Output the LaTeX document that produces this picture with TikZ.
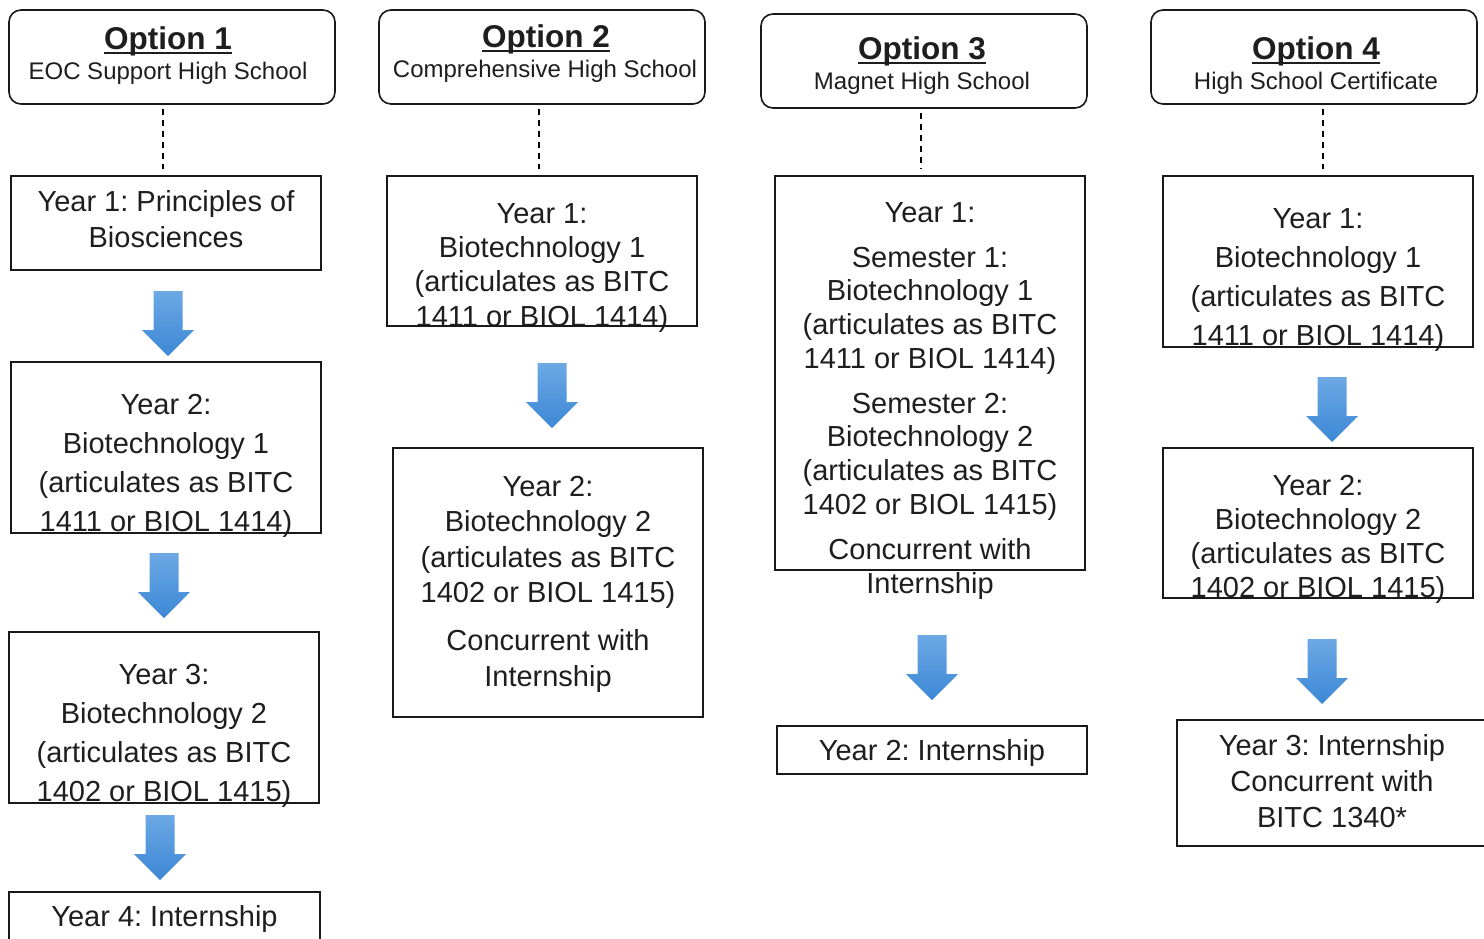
\documentclass[tikz,border=0pt]{standalone}
\usepackage{fontspec}
\setmainfont{Liberation Sans}
\usetikzlibrary{calc}
\frenchspacing
\definecolor{txtc}{RGB}{30,30,30}
\definecolor{arrtop}{RGB}{108,168,228}
\definecolor{arrbot}{RGB}{60,136,214}
\newcommand\optul[1]{\setbox0\hbox{#1}\rlap{\rule[-5pt]{\wd0}{2.4pt}}\box0}
\newcommand\ybox[6][ybox]{\node[#1, minimum width={(#4)-(#3)}, minimum height={(#6)-(#5)}] (#2) at ({((#3)+(#4))/2},{((#5)+(#6))/2}) {};}
\newcommand\barrow[3]{%
  \coordinate (#1) at (#2,#3);
  \shade[top color=arrtop, bottom color=arrbot]
    ([shift={(-14.5,0)}]#1) -- ([shift={(14.5,0)}]#1) -- ([shift={(14.5,39)}]#1)
    -- ([shift={(26,39)}]#1) -- ([shift={(0,65)}]#1) -- ([shift={(-26,39)}]#1)
    -- ([shift={(-14.5,39)}]#1) -- cycle;}
\begin{document}
\frenchspacing
\begin{tikzpicture}[x=1pt,y=-1pt,
  ybox/.style={draw=black!90, line width=1.6pt, inner sep=0pt},
  hbox/.style={ybox, rounded corners=12pt},
  txt/.style={text=txtc, align=center, inner sep=0pt, anchor=base},
  big/.style={font=\fontsize{29}{#1}\selectfont},
  opt/.style={txt, font=\fontsize{31.5}{36}\selectfont\bfseries},
  sub/.style={txt, font=\fontsize{24}{28}\selectfont},
  dashline/.style={draw=black, line width=1.5pt, dash pattern=on 6pt off 5pt, shorten <=4pt, shorten >=6pt}]
\useasboundingbox (0,0) rectangle (1484,938);
\clip (0,0) rectangle (1484,938);
\fill[white] (0,0) rectangle (1484,938);

% header texts
\node[opt] (o1) at (168,49) {\optul{Option 1}};
\node[sub] (s1) at (168,79) {EOC Support High School};
\node[opt] (o2) at (546,47) {\optul{Option 2}};
\node[sub] (s2) at (545,77) {Comprehensive High School};
\node[opt] (o3) at (922,59) {\optul{Option 3}};
\node[sub] (s3) at (922,89) {Magnet High School};
\node[opt] (o4) at (1316,59) {\optul{Option 4}};
\node[sub] (s4) at (1316,89) {High School Certificate};

% header boxes
\ybox[hbox]{h1}{9}{335}{10}{104}
\ybox[hbox]{h2}{379}{705}{10}{104}
\ybox[hbox]{h3}{761}{1087}{14}{108}
\ybox[hbox]{h4}{1151}{1477}{10}{104}

% box texts (anchored at the baseline of the last line)
\node[txt, big=36] (t11) at (166,247) {Year 1: Principles of\\Biosciences};
\node[txt, big=39] (t12) at (166,531) {Year 2:\\Biotechnology 1\\(articulates as BITC\\1411 or BIOL 1414)};
\node[txt, big=39] (t13) at (164,801) {Year 3:\\Biotechnology 2\\(articulates as BITC\\1402 or BIOL 1415)};
\node[txt, big=39] (t14) at (164.5,926) {Year 4: Internship};

\node[txt, big=34.3] (t21) at (542,326) {Year 1:\\Biotechnology 1\\(articulates as BITC\\1411 or BIOL 1414)};
\node[txt, big=35.5] (t22) at (548,686) {Year 2:\\Biotechnology 2\\(articulates as BITC\\1402 or BIOL 1415)\\[12.5pt]Concurrent with\\Internship};

\node[txt, big=33.7] (t31) at (930,593) {Year 1:\\[11.3pt]Semester 1:\\Biotechnology 1\\(articulates as BITC\\1411 or BIOL 1414)\\[11.3pt]Semester 2:\\Biotechnology 2\\(articulates as BITC\\1402 or BIOL 1415)\\[11.3pt]Concurrent with\\Internship};
\node[txt, big=39] (t32) at (932,760) {Year 2: Internship};

\node[txt, big=39] (t41) at (1318,345) {Year 1:\\Biotechnology 1\\(articulates as BITC\\1411 or BIOL 1414)};
\node[txt, big=34] (t42) at (1318,597) {Year 2:\\Biotechnology 2\\(articulates as BITC\\1402 or BIOL 1415)};
\node[txt, big=36] (t43) at (1332,827) {Year 3: Internship\\Concurrent with\\BITC 1340*};

% boxes
\ybox{b11}{11}{321}{176}{270}
\ybox{b12}{11}{321}{362}{533}
\ybox{b13}{9}{319}{632}{803}
\ybox{b14}{9}{320}{892}{960}
\ybox{b21}{387}{697}{176}{326}
\ybox{b22}{393}{703}{448}{717}
\ybox{b31}{775}{1085}{176}{570}
\ybox{b32}{777}{1087}{726}{774}
\ybox{b41}{1163}{1473}{176}{347}
\ybox{b42}{1163}{1473}{448}{598}
\ybox{b43}{1177}{1500}{720}{846}

% dashed connectors
\coordinate (d1) at (163,0);
\coordinate (d2) at (539,0);
\coordinate (d3) at (921,0);
\coordinate (d4) at (1323,0);
\draw[dashline] (h1.south -| d1) -- (b11.north -| d1);
\draw[dashline] (h2.south -| d2) -- (b21.north -| d2);
\draw[dashline] (h3.south -| d3) -- (b31.north -| d3);
\draw[dashline] (h4.south -| d4) -- (b41.north -| d4);

% block arrows
\barrow{a1}{168}{291}
\barrow{a2}{164}{553}
\barrow{a3}{160}{815}
\barrow{a4}{552}{363}
\barrow{a5}{932}{635}
\barrow{a6}{1332}{377}
\barrow{a7}{1322}{639}
\end{tikzpicture}
\end{document}
